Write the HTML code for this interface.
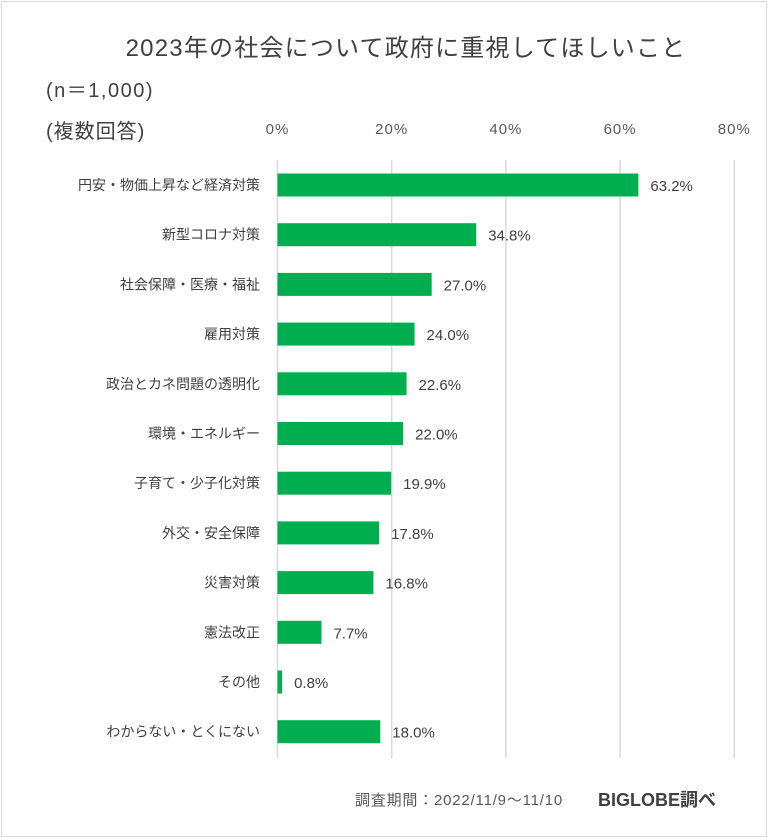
<!DOCTYPE html>
<html><head><meta charset="utf-8"><style>
body{margin:0;background:#fff;}
#wrap{position:relative;width:770px;height:840px;overflow:hidden;background:#fff;font-family:"Liberation Sans","Noto Sans CJK JP",sans-serif;color:#404040;}
#frame{position:absolute;left:1px;top:1px;width:766px;height:836px;border:1px solid #d9d9d9;box-sizing:border-box;}
</style></head><body>
<div id="wrap">
<div id="frame"></div>
<svg id="chart" width="770" height="840" style="position:absolute;left:0;top:0">
<text x="406" y="56" text-anchor="middle" font-size="24" letter-spacing="1.2" fill="#404040">2023年の社会について政府に重視してほしいこと</text>
<text x="46" y="97" font-size="20" letter-spacing="1.5" fill="#404040">(n＝1,000)</text>
<text x="46" y="138" font-size="20" letter-spacing="1" fill="#404040">(複数回答)</text>
<text x="355" y="805" font-size="15" letter-spacing="0.8" fill="#595959">調査期間：2022/11/9～11/10</text>
<text x="598" y="806" font-size="18" font-weight="bold" fill="#404040">BIGLOBE調べ</text>
<g id="grid"></g><g id="bars"></g>
</svg>
</div>
<script>
const categories=["円安・物価上昇など経済対策","新型コロナ対策","社会保障・医療・福祉","雇用対策","政治とカネ問題の透明化","環境・エネルギー","子育て・少子化対策","外交・安全保障","災害対策","憲法改正","その他","わからない・とくにない"];
const values=[63.2,34.8,27.0,24.0,22.6,22.0,19.9,17.8,16.8,7.7,0.8,18.0];
const ticks=[0,20,40,60,80];
const NS="http://www.w3.org/2000/svg";
const x0=277.5,pxPer=5.71,yTop=160,yBot=758,y0=185,step=49.7,bh=23;
const xs=v=>x0+v*pxPer;
const ys=i=>y0+i*step;
const grid=document.getElementById('grid'),bars=document.getElementById('bars');
function mk(t,a){const e=document.createElementNS(NS,t);for(const k in a)e.setAttribute(k,a[k]);return e;}
ticks.forEach(t=>{
 const l=mk('line',{x1:xs(t),x2:xs(t),y1:yTop,y2:yBot,stroke:'#d9d9d9','stroke-width':1.5});
 
 
 grid.appendChild(l);
 const tx=mk('text',{x:xs(t),y:134,'text-anchor':'middle','font-size':15,'letter-spacing':1,fill:'#595959'});
 tx.textContent=t+'%';
 
 
 grid.appendChild(tx);
});
categories.forEach((c,i)=>{
 const y=ys(i);
 const lab=mk('text',{x:260,y:y+5,'text-anchor':'end','font-size':14,fill:'#404040'});
 lab.textContent=c;
 
 
 bars.appendChild(lab);
 const r=mk('rect',{x:x0,y:y-bh/2,width:Math.max(values[i]*pxPer,2),height:bh,fill:'#00ad4f'});
 
 
 bars.appendChild(r);
 const v=mk('text',{x:xs(values[i])+12,y:y+6,'font-size':15,fill:'#404040'});
 v.textContent=values[i].toFixed(1)+'%';
 
 
 bars.appendChild(v);
});
</script>
</body></html>
